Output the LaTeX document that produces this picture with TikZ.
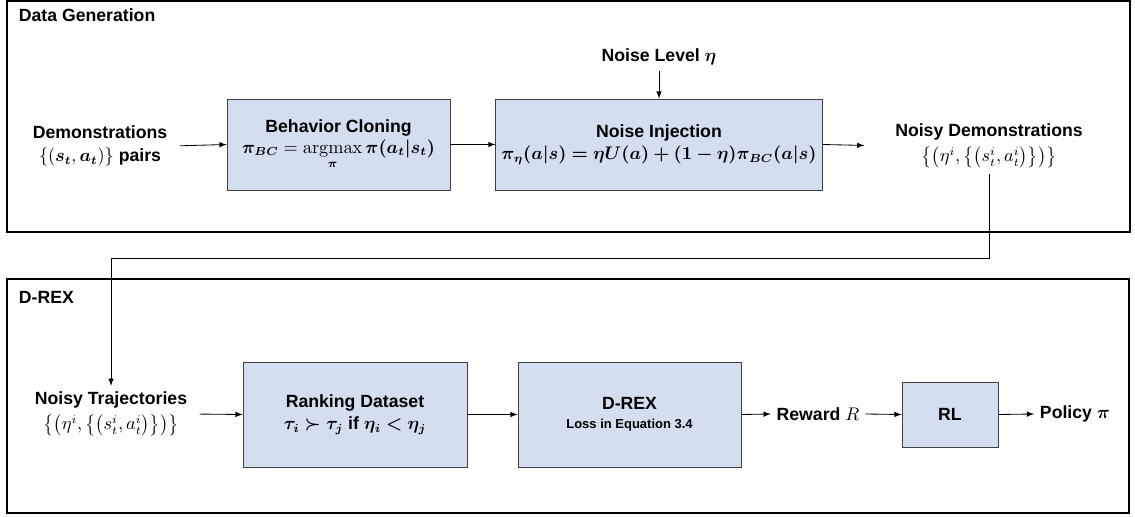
\documentclass[tikz,border=0pt]{standalone}
\usepackage{amsmath,amssymb,bm}
\usepackage[no-math]{fontspec}
\setmainfont{Liberation Sans}
\usepackage{tikz}

\definecolor{boxblue}{HTML}{D3DEF1}
\definecolor{boxline}{HTML}{404040}

\tikzset{
    txt/.style={font=\bfseries\fontsize{10.6}{13.2}\selectfont, align=center},
    procbox/.style={txt, draw=boxline, fill=boxblue, line width=0.5pt},
    frame/.style={draw=black, line width=1.3pt},
    conn/.style={-latex, line width=0.5pt}
}

\begin{document}
\begin{tikzpicture}[x=0.6pt, y=-0.6pt]
        \useasboundingbox (0, 0) rectangle (1135, 517);

        % the two stages
        \draw[frame] (7, 1) rectangle (1130, 232);
        \draw[frame] (7, 279) rectangle (1129, 513);
        \node[txt, anchor=west] (gentitle) at (13, 15) {Data Generation};
        \node[txt, anchor=west] (drextitle) at (13, 297) {D-REX};

        \node[txt] (demo) at (100, 146) {Demonstrations\\[1pt] \(\{(\bm{s_t}, \bm{a_t})\}\) pairs};
        \node[procbox, minimum width=133.8pt, minimum height=54.6pt] (bc) at (338.5, 144.5)
            {Behavior Cloning\\[-1pt] \(\displaystyle\bm{\pi_{BC}} = \operatorname*{argmax}_{\bm{\pi}} \bm{\pi(a_t|s_t)}\)};
        \node[procbox, minimum width=195.6pt, minimum height=54.6pt] (ni) at (659, 144.5)
            {Noise Injection\\ \(\bm{\pi_\eta(a|s) = \eta U(a) + (1-\eta)\pi_{BC}(a|s)}\)};
        \node[txt] (noise) at (659, 57) {Noise Level \(\bm{\eta}\)};
        \node[txt] (noisydemo) at (989, 146) {Noisy Demonstrations\\[2pt] \(\big\{\big(\eta^i, \big\{\big(s^i_t, a^i_t\big)\big\}\big)\big\}\)};

        \node[txt] (noisytraj) at (111, 414) {Noisy Trajectories\\[2pt] \(\big\{\big(\eta^i, \big\{\big(s^i_t, a^i_t\big)\big\}\big)\big\}\)};
        \node[procbox, minimum width=134.4pt, minimum height=63pt] (rank) at (355, 414.5)
            {Ranking Dataset\\ \(\bm{\tau_i \succ \tau_j}\) if \(\bm{\eta_i < \eta_j}\)};
        \node[procbox, minimum width=133.8pt, minimum height=63pt] (drex) at (629.5, 414.5)
            {D-REX\\[-2pt] {\fontsize{7.8}{9}\selectfont Loss in Equation 3.4}};
        \node[txt] (reward) at (818, 414) {Reward \(R\)};
        \node[procbox, minimum width=57.6pt, minimum height=39pt] (rl) at (950, 414.5) {RL};
        \node[txt] (policy) at (1075, 414) {Policy \(\bm{\pi}\)};

        \coordinate (turn) at (989, 258);

        \draw[conn, shorten <=4pt] (demo.east) -- (bc.west);
        \draw[conn] (bc.east) -- (ni.west);
        \draw[conn] (noise.south) -- (ni.north);
        \draw[conn, shorten >=15pt] (ni.east) -- (noisydemo.west);

        \draw[conn] (noisydemo.south) -- (turn) -| (noisytraj.north);

        \draw[conn, shorten <=4pt] (noisytraj.east) -- (rank.west);
        \draw[conn] (rank.east) -- (drex.west);
        \draw[conn] (drex.east) -- (reward.west);
        \draw[conn] (reward.east) -- (rl.west);
        \draw[conn] (rl.east) -- (policy.west);
    \end{tikzpicture}
\end{document}
